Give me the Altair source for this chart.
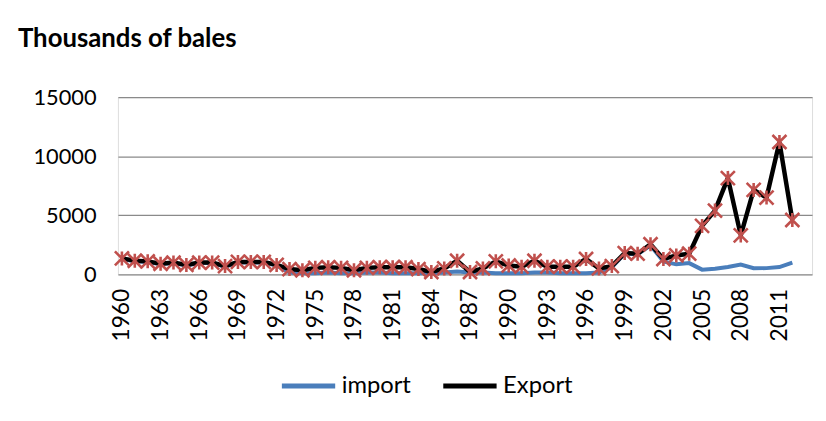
import altair as alt
import pandas as pd

years = list(range(1960, 2013))

export_vals = [1350, 1150, 1100, 900, 1000, 800, 1000, 1000, 700, 1050,
               1050, 1050, 800, 450, 350, 550, 600, 550, 350, 550,
               600, 600, 600, 450, 200, 500, 1150, 200, 500, 1100,
               750, 650, 1150, 650, 650, 650, 1300, 500, 700, 1800,
               1750, 2550, 1300, 1600, 1750, 4100, 5400, 8150, 3300, 7150,
               6500, 11200, 4600]

import_vals = [1300, 1100, 1050, 850, 950, 750, 950, 950, 650, 1000,
               1000, 1000, 750, 150, 100, 100, 150, 100, 100, 150,
               150, 100, 100, 100, 100, 150, 250, 150, 150, 100,
               100, 100, 150, 150, 100, 100, 100, 150, 600, 1750,
               1700, 2450, 1100, 850, 950, 400, 480, 620, 830, 520,
               530, 620, 1000]

series_names = ["import", "Export"]
y_ticks = [0, 5000, 10000, 15000]
x_ticks = list(range(1960, 2012, 3))

df = pd.DataFrame({
    "year": years * 2,
    "value": import_vals + export_vals,
    "series": ["import"] * len(years) + ["Export"] * len(years),
})

FONT = "Lato"

x_enc = alt.X("year:Q",
              scale=alt.Scale(domain=[1959.69, 2013.53], nice=False, zero=False),
              axis=alt.Axis(values=x_ticks, format="d", labelAngle=-90,
                            labelAlign="right", labelBaseline="middle",
                            labelPadding=14, labelFontSize=23, labelFont=FONT,
                            labelColor="#000000", domain=False, ticks=False,
                            grid=False, title=None, labelOverlap=False))
y_enc = alt.Y("value:Q",
              scale=alt.Scale(domain=[0, 15000], nice=False),
              axis=alt.Axis(values=y_ticks, format="d", labelPadding=22,
                            labelFontSize=22, labelFont=FONT, labelColor="#000000",
                            domain=False, ticks=False, grid=True,
                            gridColor="#8a8a8a", gridWidth=1.3, title=None))
color_enc = alt.Color("series:N",
                      scale=alt.Scale(domain=series_names, range=["#4A7EBB", "#000000"]),
                      legend=alt.Legend(title=None, orient="none", direction="horizontal",
                                        legendX=163, legendY=262,
                                        symbolType="stroke", symbolSize=2900,
                                        symbolStrokeWidth=5, labelFont=FONT,
                                        labelFontSize=24, labelColor="#000000",
                                        labelOffset=4, columnPadding=22))

base = alt.Chart(df).encode(x=x_enc, y=y_enc)

imp_line = base.transform_filter(alt.datum.series == "import").mark_line(
    strokeWidth=4).encode(color=color_enc)
exp_line = base.transform_filter(alt.datum.series == "Export").mark_line(
    strokeWidth=4.5).encode(color=color_enc)
exp_pts = base.transform_filter(alt.datum.series == "Export").mark_point(
    shape="M-1,-1L1,1M-1,1L1,-1M0,-1L0,1", filled=False, stroke="#C0504D",
    strokeWidth=2.6, size=200, opacity=1)

chart = alt.layer(imp_line, exp_line, exp_pts).properties(
    width=701, height=179,
    autosize=alt.AutoSizeParams(type="none"),
    padding={"left": 111, "top": 88, "right": 6, "bottom": 138},
    title=alt.TitleParams("Thousands of bales", anchor="start", frame="group",
                          dx=-101, offset=14, font=FONT, fontSize=26,
                          fontWeight="bold", color="#000000", baseline="alphabetic"),
).configure_view(stroke=None).configure(background="white")

chart.save("out.html", embed_options={"renderer": "svg", "actions": False})
